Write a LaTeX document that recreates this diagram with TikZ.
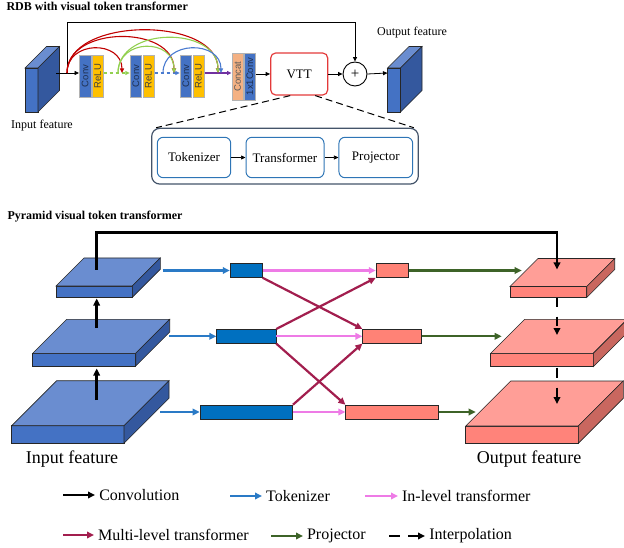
\documentclass[tikz,border=0pt]{standalone}
\usepackage{fontspec}
\setmainfont{Liberation Serif}
\newfontfamily\boxfont{Liberation Sans}
\usepackage{graphicx}
\usetikzlibrary{arrows.meta}
\definecolor{bluefront}{HTML}{4472C4}
\definecolor{bluetop}{HTML}{6A8DD0}
\definecolor{blueside}{HTML}{34589E}
\definecolor{salmonfront}{HTML}{FF837A}
\definecolor{salmontop}{HTML}{FF9E97}
\definecolor{salmonside}{HTML}{C9675F}
\definecolor{reluyellow}{HTML}{FFC000}
\definecolor{concatorange}{HTML}{F4B183}
\definecolor{unittext}{HTML}{1F3050}
\definecolor{arcred}{HTML}{C00000}
\definecolor{arcgreen}{HTML}{92D050}
\definecolor{arcblue}{HTML}{4A7BD0}
\definecolor{arcpurple}{HTML}{7030A0}
\definecolor{vttred}{HTML}{E33A3A}
\definecolor{boxgrey}{HTML}{44546A}
\definecolor{boxblue}{HTML}{2E75B6}
\definecolor{tokblue}{HTML}{0070C0}
\definecolor{tokline}{HTML}{2A7AC6}
\definecolor{inpink}{HTML}{EE7BE6}
\definecolor{multired}{HTML}{A21E4E}
\definecolor{projgreen}{HTML}{3D6328}
\definecolor{prsalmon}{HTML}{FF8276}

\begin{document}
\begin{tikzpicture}[x=1pt,y=-1pt,>={Triangle[length=4.5pt,width=4pt]},
  unitbox/.style={draw=gray!60,line width=0.4pt,minimum width=11.6,minimum height=42,inner sep=0,font=\boxfont\fontsize{9.5}{9.5}\selectfont},
  stagebox/.style={draw=boxblue,line width=1pt,rounded corners=6,minimum height=40.4,font=\fontsize{13}{13}\selectfont},
  tokbox/.style={draw=black!85,fill=tokblue,minimum height=14,inner sep=0,line width=0.6},
  projbox/.style={draw=black!85,fill=prsalmon,minimum height=14,inner sep=0,line width=0.6},
  slab/.style={draw=black!85,line width=0.6},
  thinarrow/.style={->,line width=0.8},
  arcarrow/.style={->,line width=1.1},
  fatarrow/.style={>={Triangle[length=7pt,width=6.5pt]},->,line width=2.2},
  legendtext/.style={font=\fontsize{16}{16}\selectfont,inner sep=3pt,text=black}]
\useasboundingbox (0,0) rectangle (624,548);

\node[anchor=west,font=\bfseries\fontsize{12}{12}\selectfont] (rdbtitle) at (3,6) {RDB with visual token transformer};
\node[anchor=west,font=\bfseries\fontsize{12}{12}\selectfont] (pyrtitle) at (4,217) {Pyramid visual token transformer};

\foreach \x/\y/\w/\h/\d/\col in {25/68/13/44/21.5/blue,387.5/68/13/44/21.5/blue,
  56/286/76.3/11.3/28/blue,32.7/353.3/103/12.7/34/blue,11.7/425.7/112.3/17.6/45/blue,
  510/286.5/76.7/11/28/salmon,490.7/353.3/102.6/13.4/34/salmon,465.7/426/112.6/17.3/45/salmon}{
  \filldraw[slab,fill=\col front] (\x,\y) rectangle ++(\w,\h);
  \filldraw[slab,fill=\col top] (\x,\y) -- ++(\d,-\d) -- ++(\w,0) -- ++(-\d,\d) -- cycle;
  \filldraw[slab,fill=\col side] (\x+\w,\y) -- ++(\d,-\d) -- ++(0,\h) -- ++(-\d,\d) -- cycle;
}

\node[font=\fontsize{12}{12}\selectfont] (intop) at (42,126) {Input feature};
\node[font=\fontsize{12}{12}\selectfont] (outtop) at (412,33) {Output feature};

\node[unitbox,fill=bluefront,text=unittext] (conv1) at (85,76) {\rotatebox{90}{Conv}};
\node[unitbox,fill=reluyellow,text=black!75] (relu1) at (97.7,76) {\rotatebox{90}{ReLU}};
\node[unitbox,fill=bluefront,text=unittext] (conv2) at (135.8,76) {\rotatebox{90}{Conv}};
\node[unitbox,fill=reluyellow,text=black!75] (relu2) at (148.5,76) {\rotatebox{90}{ReLU}};
\node[unitbox,fill=bluefront,text=unittext] (conv3) at (185.8,76) {\rotatebox{90}{Conv}};
\node[unitbox,fill=reluyellow,text=black!75] (relu3) at (198.5,76) {\rotatebox{90}{ReLU}};
\node[unitbox,fill=concatorange,text=black!65,minimum height=47] (concat) at (237.5,76.5) {\rotatebox{90}{Concat}};
\node[unitbox,fill=bluefront,text=unittext,minimum height=47] (conv1x1) at (249.8,76.5) {\rotatebox{90}{1x1Conv}};
\node[draw=vttred,line width=1.2,rounded corners=5,minimum width=57,minimum height=42,font=\fontsize{13}{13}\selectfont] (vtt) at (299.2,74) {VTT};
\node[circle,draw,line width=0.9,minimum size=24,inner sep=0,font=\fontsize{15}{15}\selectfont] (plus) at (355,74) {+};

\coordinate (inblk) at (56,73);
\coordinate (outblk) at (387.5,73);
\coordinate (skip) at (67,73);
\coordinate (g0) at (118,73);
\coordinate (b0) at (163,73);
\coordinate (r1) at (122,73);
\coordinate (r2) at (174,73);
\coordinate (r3) at (218,73);
\coordinate (b1) at (221,73);

\draw[thinarrow] (inblk) -- (inblk -| conv1.west);
\draw[thinarrow] (skip) -- ++(0,-50.3) -| (plus.north);
\draw[arcarrow,arcgreen,dashed] (relu1.east |- inblk) -- (conv2.west |- inblk);
\draw[arcarrow,arcblue,dashed] (relu2.east |- inblk) -- (conv3.west |- inblk);
\draw[arcarrow,arcpurple] (relu3.east |- inblk) -- (concat.west |- inblk);
\draw[arcarrow,arcred] (skip) .. controls +(0,-33) and +(0,-33) .. (r1);
\draw[arcarrow,arcred] (skip) .. controls +(0,-48) and +(0,-48) .. (r2);
\draw[arcarrow,arcred] (skip) .. controls +(0,-57) and +(0,-57) .. (r3);
\draw[arcarrow,arcgreen] (g0) .. controls +(0,-35) and +(0,-35) .. (r2);
\draw[arcarrow,arcgreen] (g0) .. controls +(0,-47) and +(0,-47) .. (r3);
\draw[arcarrow,arcblue] (b0) .. controls +(0,-33) and +(0,-33) .. (b1);
\draw[thinarrow] (conv1x1.east |- vtt.west) -- (vtt.west);
\draw[thinarrow] (vtt.east) -- (plus.west);
\draw[thinarrow] (plus.east) -- (outblk);

\node[draw=boxgrey,line width=1.2,rounded corners=8,minimum width=266.6,minimum height=55.7] (vttbox) at (285,156.2) {};
\node[stagebox,minimum width=73.4] (tokenizer) at (194,157.5) {Tokenizer};
\node[stagebox,minimum width=78] (transformer) at (285,157.5) {Transformer};
\node[stagebox,minimum width=73.7] (projector) at (375.8,157.5) {Projector};
\draw[->,line width=0.7] (tokenizer) -- (transformer);
\draw[->,line width=0.7] (transformer) -- (projector);
\draw[line width=1,dash pattern=on 7pt off 4pt] ([xshift=-9]vtt.south) -- ([xshift=5]vttbox.north west);
\draw[line width=1,dash pattern=on 7pt off 4pt] ([xshift=16]vtt.south) -- ([xshift=-5]vttbox.north east);

\node[tokbox,minimum width=32.3] (tok1) at (246.2,270.5) {};
\node[tokbox,minimum width=59.3] (tok2) at (246.3,336.3) {};
\node[tokbox,minimum width=92.7] (tok3) at (246.3,412) {};
\node[projbox,minimum width=32.3] (pr1) at (392.2,270.5) {};
\node[projbox,minimum width=59] (pr2) at (392.2,336.3) {};
\node[projbox,minimum width=92.6] (pr3) at (392,412) {};

\coordinate (c1a) at (96.7,400);
\coordinate (c1b) at (96.7,368.5);
\coordinate (c2a) at (96.7,328);
\coordinate (c2b) at (96.7,298.5);
\coordinate (c3a) at (96.7,270);
\coordinate (o1in) at (557,269.5);
\coordinate (i1a) at (557,298);
\coordinate (i1b) at (557,335);
\coordinate (i2a) at (557,367.5);
\coordinate (i2b) at (557,404);
\coordinate (tk1) at (162.7,270.5);
\coordinate (tk2) at (169.3,336.3);
\coordinate (tk3) at (160,412);
\coordinate (pj1) at (521.7,270.5);
\coordinate (pj2) at (501.7,336.3);
\coordinate (pj3) at (475.7,412);

\draw[fatarrow,line width=2.6] (c1a) -- (c1b);
\draw[fatarrow,line width=2.6] (c2a) -- (c2b);
\draw[fatarrow,line width=2.6] (c3a) -- ++(0,-37.7) -| (o1in);
\draw[fatarrow,line width=2.6,dash pattern=on 9pt off 9.5pt] (i1a) -- (i1b);
\draw[fatarrow,line width=2.6,dash pattern=on 10pt off 10pt] (i2a) -- (i2b);
\draw[fatarrow,tokline] (tk1) -- (tok1);
\draw[fatarrow,tokline] (tk2) -- (tok2);
\draw[fatarrow,tokline] (tk3) -- (tok3);
\draw[fatarrow,inpink] (tok1) -- (pr1);
\draw[fatarrow,inpink] (tok2) -- (pr2);
\draw[fatarrow,inpink] (tok3) -- (pr3);
\draw[fatarrow,multired] (tok1.south east) -- (pr2.north west);
\draw[fatarrow,multired] (tok2.north east) -- (pr1.south west);
\draw[fatarrow,multired] (tok2.south east) -- (pr3.north west);
\draw[fatarrow,multired] (tok3.north east) -- (pr2.south west);
\draw[fatarrow,projgreen] (pr1) -- (pj1);
\draw[fatarrow,projgreen] (pr2) -- (pj2);
\draw[fatarrow,projgreen] (pr3) -- (pj3);

\node[font=\fontsize{18}{18}\selectfont] (infeat) at (72,459) {Input feature};
\node[font=\fontsize{18}{18}\selectfont] (outfeat) at (529,459) {Output feature};

\draw[fatarrow,line width=2.6] (63,495) -- ++(32,0) node[right,legendtext] (lgconv) {Convolution};
\draw[fatarrow,tokline] (230,496) -- ++(32,0) node[right,legendtext] (lgtok) {Tokenizer};
\draw[fatarrow,inpink] (365,496) -- ++(33,0) node[right,legendtext] (lgin) {In-level transformer};
\draw[fatarrow,multired] (63,535) -- ++(31,0) node[right,legendtext] (lgmulti) {Multi-level transformer};
\draw[fatarrow,projgreen] (271,536) -- ++(32,0) node[right,legendtext] (lgproj) {Projector};
\draw[fatarrow,line width=2.6,dash pattern=on 11pt off 8pt] (389,536) -- ++(36,0) node[right,legendtext] (lginterp) {Interpolation};
\end{tikzpicture}
\end{document}
